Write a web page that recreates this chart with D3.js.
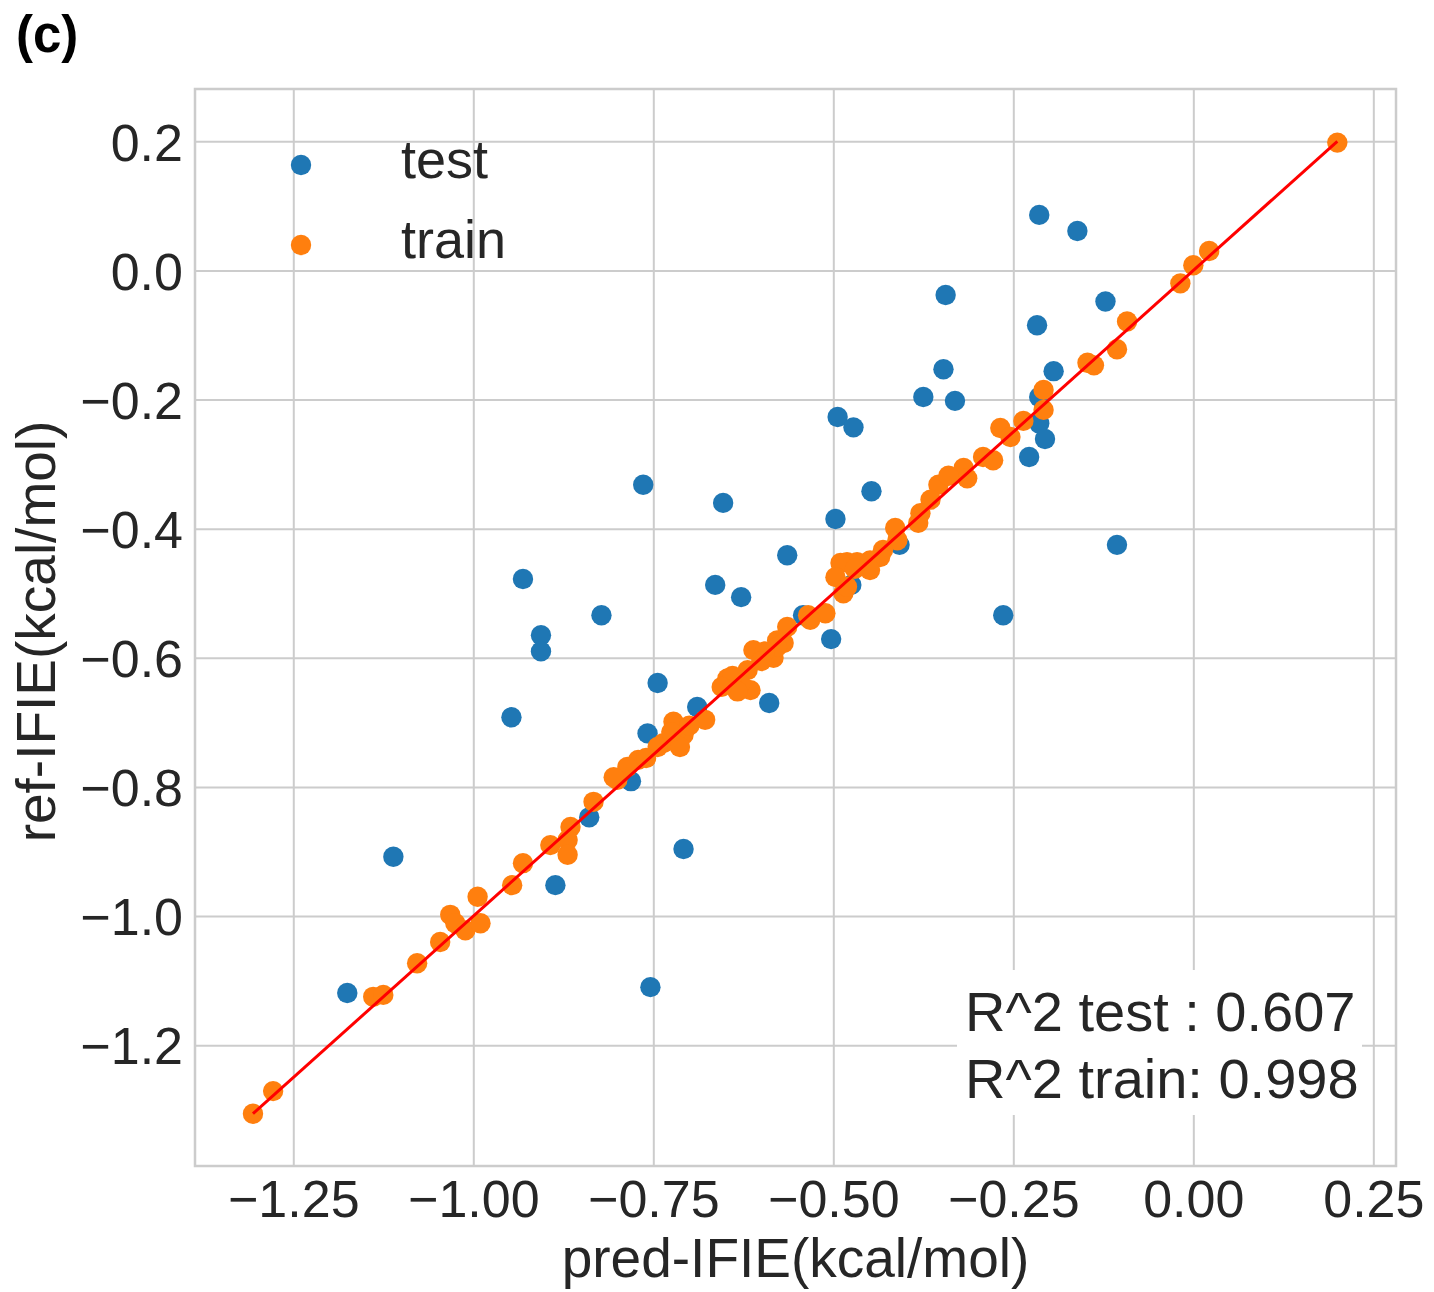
<!DOCTYPE html>
<meta charset="utf-8">
<head>
  <script src="https://d3js.org/d3.v7.min.js"></script>
  <style>
    body { margin: 0; background: #fff; }
    text { font-family: "Liberation Sans", Arial, sans-serif; fill: #262626; }
  </style>
</head>
<body>
  <div id="my_dataviz"></div>
</body>
<script>
  // test set (blue)
  var testPred = [-1.175, -1.111, -0.754, -0.886, -0.839, -0.708, -0.781, -0.758, -0.947, -0.744,
    -0.689, -0.589, -0.906, -0.906, -0.931, -0.822, -0.764, -0.653, -0.664, -0.628,
    -0.564, -0.503, -0.497, -0.494, -0.472, -0.447, -0.344, -0.347, -0.375, -0.331,
    -0.214, -0.161, -0.122, -0.217, -0.194, -0.214, -0.214, -0.206, -0.228, -0.106,
    -0.264, -0.475, -0.542, -0.408];
  var testRef = [-1.119, -0.908, -1.110, -0.952, -0.847, -0.896, -0.791, -0.717, -0.692, -0.639,
    -0.676, -0.670, -0.565, -0.590, -0.478, -0.534, -0.332, -0.360, -0.487, -0.506,
    -0.441, -0.571, -0.385, -0.227, -0.243, -0.342, -0.038, -0.153, -0.196, -0.202,
    0.086, 0.061, -0.048, -0.085, -0.156, -0.196, -0.237, -0.261, -0.289, -0.425,
    -0.534, -0.487, -0.534, -0.425];

  // train set (orange)
  var trainPred = [0.200, 0.022, 0.000, -0.018, -0.092, -0.106, -0.147, -0.138, -0.208, -0.208,
    -0.236, -0.268, -0.254, -0.278, -0.292, -0.319, -0.314, -0.354, -0.365, -0.379,
    -0.382, -0.414, -0.411, -0.431, -0.435, -0.449, -0.449, -0.481, -0.467, -0.490,
    -0.497, -0.486, -0.481, -0.511, -0.535, -0.532, -0.564, -0.578, -0.569, -0.611,
    -0.583, -0.578, -0.619, -0.647, -0.615, -0.629, -0.678, -0.722, -0.708, -0.736,
    -0.713, -0.744, -0.771, -0.786, -0.800, -0.805, -0.833, -0.865, -0.869, -0.893,
    -0.869, -0.931, -0.946, -0.994, -1.032, -1.025, -1.011, -0.990, -1.046, -1.078,
    -1.139, -1.125, -1.278, -1.306,
    -0.640, -0.633, -0.700, -0.725, -0.760, -0.595, -0.600, -0.340, -0.470, -0.655];
  var trainRef = [0.198, 0.030, 0.008, -0.020, -0.079, -0.122, -0.143, -0.147, -0.185, -0.216,
    -0.233, -0.244, -0.258, -0.294, -0.289, -0.306, -0.322, -0.332, -0.355, -0.376,
    -0.391, -0.399, -0.418, -0.433, -0.444, -0.449, -0.464, -0.452, -0.452, -0.453,
    -0.475, -0.500, -0.490, -0.531, -0.534, -0.541, -0.552, -0.573, -0.577, -0.588,
    -0.600, -0.583, -0.619, -0.632, -0.650, -0.640, -0.696, -0.699, -0.719, -0.732,
    -0.738, -0.738, -0.758, -0.769, -0.789, -0.785, -0.823, -0.862, -0.882, -0.890,
    -0.905, -0.918, -0.952, -0.970, -0.998, -1.011, -1.022, -1.011, -1.040, -1.073,
    -1.125, -1.122, -1.271, -1.306,
    -0.628, -0.652, -0.705, -0.715, -0.755, -0.590, -0.605, -0.318, -0.462, -0.645];

  var xTicks = [-1.25, -1.00, -0.75, -0.50, -0.25, 0.00, 0.25];
  var yTicks = [0.2, 0.0, -0.2, -0.4, -0.6, -0.8, -1.0, -1.2];
  var legendLabels = ["test", "train"];
  var scoreLines = ["R^2 test : 0.607", "R^2 train: 0.998"];

  var W = 1434, H = 1292;
  var margin = { left: 195, right: 1396, top: 89, bottom: 1166 };
  var blue = "#1f77b4", orange = "#ff7f0e";
  var dotR = 10.2;

  var svg = d3.select("#my_dataviz").append("svg")
    .attr("width", W).attr("height", H);

  var x = d3.scaleLinear().domain([-1.3865, 0.2815]).range([margin.left, margin.right]);
  var y = d3.scaleLinear().domain([-1.387, 0.281]).range([margin.bottom, margin.top]);
  var plotW = margin.right - margin.left, plotH = margin.bottom - margin.top;

  var minus = function (s) { return s.replace("-", "\u2212"); };

  // grid
  var gx = svg.append("g").attr("transform", "translate(0," + margin.bottom + ")")
    .call(d3.axisBottom(x).tickValues(xTicks).tickSize(-plotH).tickFormat(""));
  var gy = svg.append("g").attr("transform", "translate(" + margin.left + ",0)")
    .call(d3.axisLeft(y).tickValues(yTicks).tickSize(-plotW).tickFormat(""));
  [gx, gy].forEach(function (g) {
    g.select(".domain").remove();
    g.selectAll("line").attr("stroke", "#cccccc").attr("stroke-width", 2);
  });

  // frame
  svg.append("rect")
    .attr("x", margin.left).attr("y", margin.top)
    .attr("width", plotW).attr("height", plotH)
    .attr("fill", "none").attr("stroke", "#cccccc").attr("stroke-width", 2.5);

  // tick labels
  var ax = svg.append("g").attr("transform", "translate(0," + margin.bottom + ")")
    .call(d3.axisBottom(x).tickValues(xTicks).tickSize(0).tickPadding(14)
      .tickFormat(function (d) { return minus(d3.format(".2f")(d)); }));
  var ay = svg.append("g").attr("transform", "translate(" + margin.left + ",0)")
    .call(d3.axisLeft(y).tickValues(yTicks).tickSize(0).tickPadding(12)
      .tickFormat(function (d) { return minus(d3.format(".1f")(d)); }));
  [ax, ay].forEach(function (g) {
    g.select(".domain").remove();
    g.selectAll("text").attr("font-size", 52)
      .style("font-family", "'Liberation Sans', Arial, sans-serif").attr("fill", "#262626");
  });
  ay.selectAll("text").attr("dy", "0.36em");

  // points
  svg.append("g").selectAll("circle")
    .data(d3.range(testPred.length)).enter().append("circle")
    .attr("cx", function (i) { return x(testPred[i]); })
    .attr("cy", function (i) { return y(testRef[i]); })
    .attr("r", dotR).attr("fill", blue);

  svg.append("g").selectAll("circle")
    .data(d3.range(trainPred.length)).enter().append("circle")
    .attr("cx", function (i) { return x(trainPred[i]); })
    .attr("cy", function (i) { return y(trainRef[i]); })
    .attr("r", dotR).attr("fill", orange);

  // y = x line over the train range
  var lo = d3.min(trainRef), hi = d3.max(trainPred);
  svg.append("line")
    .attr("x1", x(lo)).attr("y1", y(lo))
    .attr("x2", x(hi)).attr("y2", y(hi))
    .attr("stroke", "red").attr("stroke-width", 3);

  // legend
  var leg = svg.append("g");
  legendLabels.forEach(function (lab, i) {
    var ly = 165 + i * 80;
    leg.append("circle").attr("cx", 301).attr("cy", ly).attr("r", dotR)
      .attr("fill", i == 0 ? blue : orange);
    leg.append("text").attr("x", 401).attr("y", ly + 13)
      .attr("font-size", 54).text(lab);
  });

  // score box
  svg.append("rect").attr("x", 957).attr("y", 970)
    .attr("width", 405).attr("height", 145).attr("fill", "#fff");
  scoreLines.forEach(function (s, i) {
    svg.append("text").attr("x", 965).attr("y", 1031 + i * 67)
      .attr("font-size", 56).text(s);
  });

  // axis labels
  svg.append("text")
    .attr("x", (margin.left + margin.right) / 2).attr("y", 1277)
    .attr("text-anchor", "middle").attr("font-size", 55)
    .text("pred-IFIE(kcal/mol)");
  svg.append("text")
    .attr("transform", "translate(55," + ((margin.top + margin.bottom) / 2 + 4) + ")rotate(-90)")
    .attr("text-anchor", "middle").attr("font-size", 55)
    .text("ref-IFIE(kcal/mol)");

  // panel tag
  svg.append("text").attr("x", 16).attr("y", 52)
    .attr("font-size", 51).attr("font-weight", "bold")
    .style("fill", "#000").text("(c)");
</script>
